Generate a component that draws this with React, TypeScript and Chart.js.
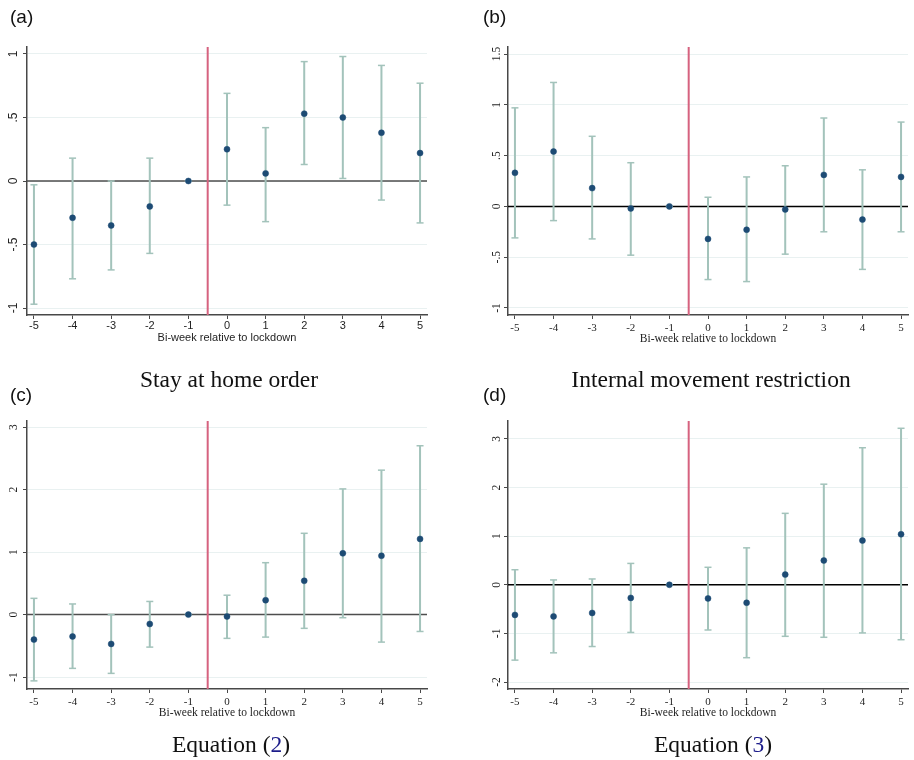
import React, { useEffect, useRef } from 'react';
import { Chart, registerables } from 'chart.js';

Chart.register(...registerables);

// ---------------- data ----------------
const xValues = [-5, -4, -3, -2, -1, 0, 1, 2, 3, 4, 5];
const xTickLabels = ['-5', '-4', '-3', '-2', '-1', '0', '1', '2', '3', '4', '5'];
const xTitle = 'Bi-week relative to lockdown';
const lockdownX = -0.5;
const xRange = [-5.18, 5.18];

// (a) Stay at home order
const estA = [-0.5, -0.29, -0.35, -0.2, 0, 0.25, 0.06, 0.53, 0.5, 0.38, 0.22];
const loA = [-0.97, -0.77, -0.7, -0.57, 0, -0.19, -0.32, 0.13, 0.02, -0.15, -0.33];
const hiA = [-0.03, 0.18, 0.0, 0.18, 0, 0.69, 0.42, 0.94, 0.98, 0.91, 0.77];
const yTicksA = [-1, -0.5, 0, 0.5, 1];
const yTickLabelsA = ['-1', '-.5', '0', '.5', '1'];
const yRangeA = [-1.055, 1.055];

// (b) Internal movement restriction
const estB = [0.33, 0.54, 0.18, -0.02, 0, -0.32, -0.23, -0.03, 0.31, -0.13, 0.29];
const loB = [-0.31, -0.14, -0.32, -0.48, 0, -0.72, -0.74, -0.47, -0.25, -0.62, -0.25];
const hiB = [0.97, 1.22, 0.69, 0.43, 0, 0.09, 0.29, 0.4, 0.87, 0.36, 0.83];
const yTicksB = [-1, -0.5, 0, 0.5, 1, 1.5];
const yTickLabelsB = ['-1', '-.5', '0', '.5', '1', '1.5'];
const yRangeB = [-1.069, 1.569];

// (c) Equation (2)
const estC = [-0.4, -0.35, -0.47, -0.15, 0, -0.03, 0.23, 0.54, 0.98, 0.94, 1.21];
const loC = [-1.06, -0.86, -0.94, -0.52, 0, -0.38, -0.36, -0.22, -0.05, -0.44, -0.27];
const hiC = [0.26, 0.17, 0.0, 0.21, 0, 0.31, 0.83, 1.3, 2.01, 2.31, 2.7];
const yTicksC = [-1, 0, 1, 2, 3];
const yTickLabelsC = ['-1', '0', '1', '2', '3'];
const yRangeC = [-1.19, 3.096];

// (d) Equation (3)
const estD = [-0.62, -0.65, -0.58, -0.27, 0, -0.28, -0.37, 0.21, 0.5, 0.91, 1.04];
const loD = [-1.55, -1.4, -1.27, -0.98, 0, -0.93, -1.5, -1.06, -1.08, -0.99, -1.13];
const hiD = [0.31, 0.1, 0.12, 0.44, 0, 0.36, 0.76, 1.47, 2.07, 2.82, 3.22];
const yTicksD = [-2, -1, 0, 1, 2, 3];
const yTickLabelsD = ['-2', '-1', '0', '1', '2', '3'];
const yRangeD = [-2.144, 3.37];

// ---------------- style ----------------
const SANS = '"Liberation Sans", Arial, sans-serif';
const SERIF = '"Liberation Serif", "Times New Roman", serif';
const NAVY = '#1d4b74';
const TEAL = '#a3c3bb';
const RED = '#d6627f';
const GRID = '#e9f1f1';
const AXIS = '#484848';
const TEXT = '#1e1e1e';

type Spec = {
  est: number[];
  lo: number[];
  hi: number[];
  yTicks: number[];
  yTickLabels: string[];
  yRange: number[];
  family: string;
  zeroColor: string;
  left: number;
  top: number;
  padding: { left: number; top: number; right: number; bottom: number };
  yWidth: number;
  xHeight: number;
  tickPad: number;
  labelGap: number;
  titleSize: number;
  yFontSize: number;
};

const yLabelPlugin = {
  id: 'yRotLabels',
  afterDraw(chart: any, _args: any, opts: any) {
    const s = chart.scales.y;
    const ctx = chart.ctx;
    ctx.save();
    ctx.font = opts.font;
    ctx.fillStyle = TEXT;
    ctx.textAlign = 'center';
    ctx.textBaseline = 'alphabetic';
    (opts.values as number[]).forEach((v, i) => {
      const y = s.getPixelForValue(v);
      ctx.save();
      ctx.translate(s.right - opts.gap, y);
      ctx.rotate(-Math.PI / 2);
      ctx.fillText(opts.labels[i], 0, 0);
      ctx.restore();
    });
    ctx.restore();
  },
};

function Panel({ spec }: { spec: Spec }) {
  const ref = useRef<HTMLCanvasElement>(null);
  useEffect(() => {
    const canvas = ref.current;
    if (!canvas) return;
    const errData: { x: number; y: number | null }[] = [];
    xValues.forEach((x, i) => {
      errData.push({ x, y: spec.lo[i] }, { x, y: spec.hi[i] }, { x, y: null });
    });
    const chart = new Chart(canvas, {
      type: 'scatter',
      data: {
        datasets: [
          {
            label: 'estimate',
            data: xValues.map((x, i) => ({ x, y: spec.est[i] })),
            pointRadius: 3,
            pointHoverRadius: 3,
            pointBackgroundColor: NAVY,
            pointBorderColor: NAVY,
            pointBorderWidth: 0.5,
            showLine: false,
            order: 1,
          },
          {
            label: 'ci',
            data: errData,
            showLine: true,
            spanGaps: false,
            borderColor: TEAL,
            borderWidth: 2,
            pointStyle: 'line',
            pointRadius: 3.5,
            pointHoverRadius: 3.5,
            pointBorderColor: TEAL,
            pointBorderWidth: 1.5,
            order: 2,
          },
          {
            label: 'lockdown',
            data: [
              { x: lockdownX, y: spec.yRange[0] },
              { x: lockdownX, y: spec.yRange[1] },
            ],
            showLine: true,
            borderColor: RED,
            borderWidth: 2,
            pointRadius: 0,
            order: 3,
          },
          {
            label: 'zero',
            data: [
              { x: xRange[0], y: 0 },
              { x: xRange[1], y: 0 },
            ],
            showLine: true,
            borderColor: spec.zeroColor,
            borderWidth: 1.5,
            pointRadius: 0,
            order: 4,
          },
        ] as any,
      },
      options: {
        animation: false,
        responsive: false,
        events: [],
        layout: { padding: spec.padding },
        plugins: {
          legend: { display: false },
          tooltip: { enabled: false },
          yRotLabels: {
            values: spec.yTicks,
            labels: spec.yTickLabels,
            font: `${spec.yFontSize}px ${spec.family}`,
            gap: spec.labelGap,
          },
        } as any,
        scales: {
          x: {
            type: 'linear',
            min: xRange[0],
            max: xRange[1],
            afterBuildTicks: (s: any) => {
              s.ticks = xValues.map((v) => ({ value: v }));
            },
            afterFit: (s: any) => {
              s.height = spec.xHeight;
            },
            grid: {
              drawOnChartArea: false,
              drawTicks: true,
              tickLength: 4,
              tickColor: AXIS,
              tickWidth: 1,
            },
            border: { display: true, color: AXIS, width: 1.5 },
            ticks: {
              autoSkip: false,
              maxRotation: 0,
              minRotation: 0,
              padding: spec.tickPad,
              color: TEXT,
              font: { family: spec.family, size: 11 },
              callback: (v: any) => {
                const i = xValues.indexOf(Number(v));
                return i >= 0 ? xTickLabels[i] : '';
              },
            },
            title: {
              display: true,
              text: xTitle,
              color: TEXT,
              padding: 0,
              font: { family: spec.family, size: spec.titleSize },
            },
          },
          y: {
            type: 'linear',
            min: spec.yRange[0],
            max: spec.yRange[1],
            afterBuildTicks: (s: any) => {
              s.ticks = spec.yTicks.map((v) => ({ value: v }));
            },
            afterFit: (s: any) => {
              s.width = spec.yWidth;
            },
            grid: {
              color: GRID,
              lineWidth: 1,
              drawTicks: true,
              tickLength: 4,
              tickColor: AXIS,
              tickWidth: 1,
            },
            border: { display: true, color: AXIS, width: 1.5 },
            ticks: { display: false },
          },
        } as any,
      },
      plugins: [yLabelPlugin],
    });
    return () => chart.destroy();
  }, [spec]);
  return (
    <canvas
      ref={ref}
      width={457}
      height={380}
      style={{ position: 'absolute', left: spec.left, top: spec.top, width: 457, height: 380 }}
    />
  );
}

const specA: Spec = {
  est: estA, lo: loA, hi: hiA, yTicks: yTicksA, yTickLabels: yTickLabelsA, yRange: yRangeA,
  family: SANS, zeroColor: '#4e4e4e', left: 0, top: 0,
  padding: { left: 0, top: 47, right: 30, bottom: 35 }, yWidth: 27, xHeight: 30, tickPad: 0, labelGap: 10, titleSize: 11, yFontSize: 12,
};
const specB: Spec = {
  est: estB, lo: loB, hi: hiB, yTicks: yTicksB, yTickLabels: yTickLabelsB, yRange: yRangeB,
  family: SERIF, zeroColor: '#000000', left: 457, top: 0,
  padding: { left: 0, top: 47, right: 6, bottom: 34 }, yWidth: 51, xHeight: 31, tickPad: 3, labelGap: 8, titleSize: 11.5, yFontSize: 11.5,
};
const specC: Spec = {
  est: estC, lo: loC, hi: hiC, yTicks: yTicksC, yTickLabels: yTickLabelsC, yRange: yRangeC,
  family: SERIF, zeroColor: '#4e4e4e', left: 0, top: 380,
  padding: { left: 0, top: 41, right: 30, bottom: 40 }, yWidth: 27, xHeight: 31, tickPad: 3, labelGap: 10, titleSize: 11.5, yFontSize: 11.5,
};
const specD: Spec = {
  est: estD, lo: loD, hi: hiD, yTicks: yTicksD, yTickLabels: yTickLabelsD, yRange: yRangeD,
  family: SERIF, zeroColor: '#000000', left: 457, top: 380,
  padding: { left: 0, top: 41, right: 6, bottom: 40 }, yWidth: 51, xHeight: 31, tickPad: 3, labelGap: 8, titleSize: 11.5, yFontSize: 11.5,
};

function TextAt({ x, baseline, size, family, align, children }: any) {
  const k = family === SANS ? 0.8465 : 0.8375;
  const width = 420;
  const left = align === 'center' ? x - width / 2 : x;
  return (
    <div
      style={{
        position: 'absolute',
        left,
        top: baseline - size * k,
        width,
        textAlign: align === 'center' ? 'center' : 'left',
        fontFamily: family,
        fontSize: size,
        lineHeight: `${size}px`,
        color: '#111',
        whiteSpace: 'nowrap',
      }}
    >
      {children}
    </div>
  );
}

export default function App() {
  return (
    <div style={{ position: 'fixed', left: 0, top: 0, width: 914, height: 760, background: '#fff', overflow: 'hidden' }}>
      <Panel spec={specA} />
      <Panel spec={specB} />
      <Panel spec={specC} />
      <Panel spec={specD} />
      <TextAt x={10} baseline={23} size={19} family={SANS}>(a)</TextAt>
      <TextAt x={483} baseline={23} size={19} family={SANS}>(b)</TextAt>
      <TextAt x={10} baseline={401} size={19} family={SANS}>(c)</TextAt>
      <TextAt x={483} baseline={401} size={19} family={SANS}>(d)</TextAt>
      <TextAt x={229} baseline={388} size={23.5} family={SERIF} align="center">Stay at home order</TextAt>
      <TextAt x={711} baseline={388} size={23.5} family={SERIF} align="center">Internal movement restriction</TextAt>
      <TextAt x={231} baseline={753} size={23.5} family={SERIF} align="center">
        Equation (<span style={{ color: '#1c1c8a' }}>2</span>)
      </TextAt>
      <TextAt x={713} baseline={753} size={23.5} family={SERIF} align="center">
        Equation (<span style={{ color: '#1c1c8a' }}>3</span>)
      </TextAt>
    </div>
  );
}
